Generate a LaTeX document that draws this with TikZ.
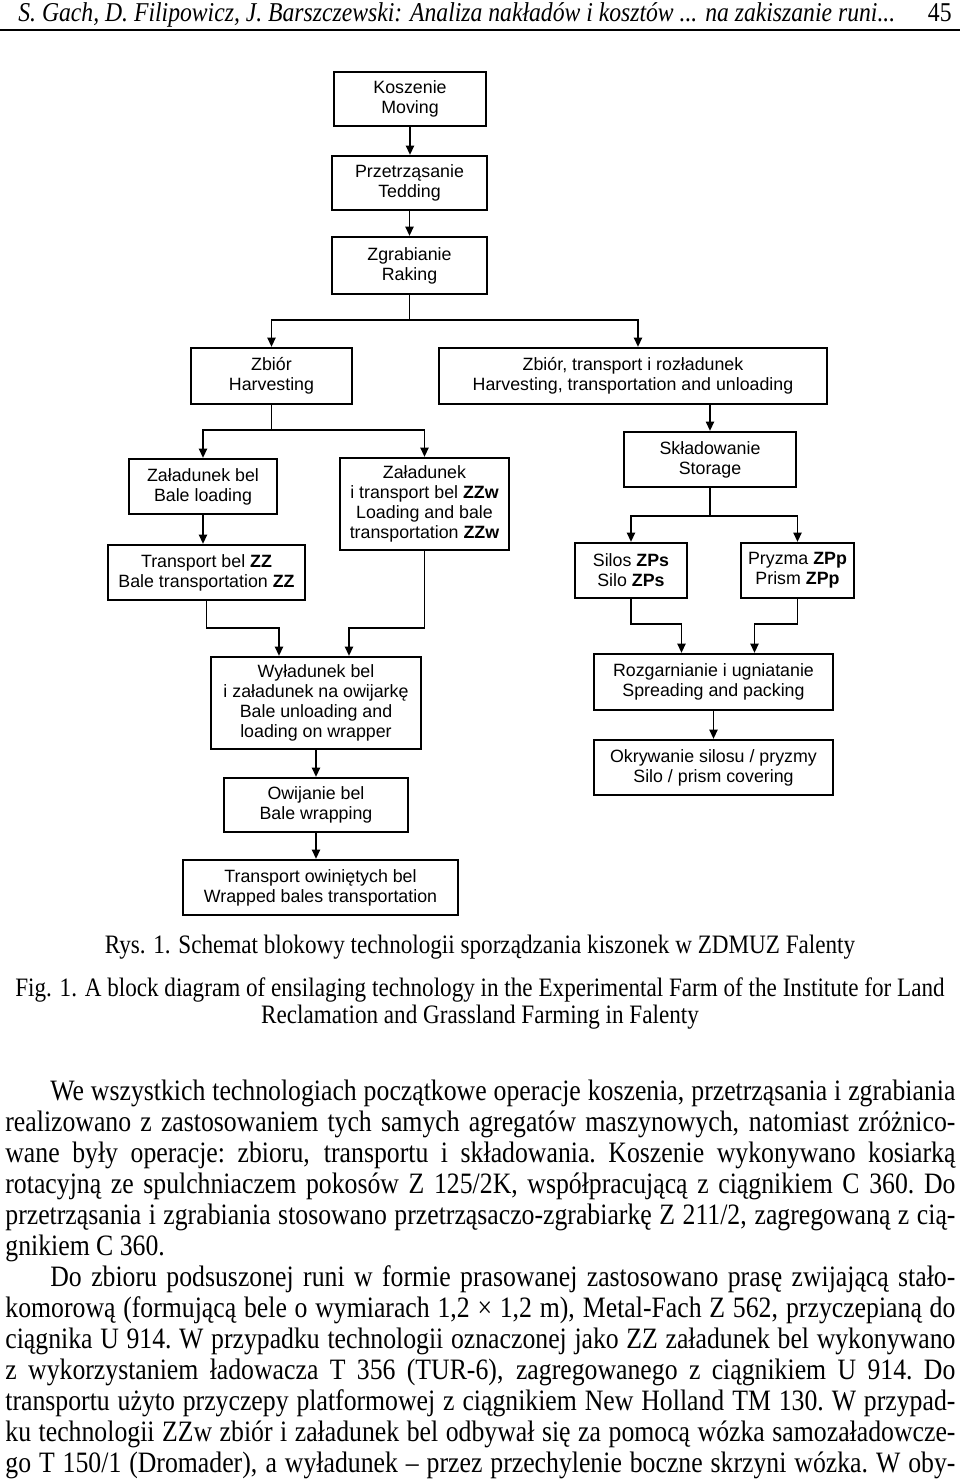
\documentclass[tikz,border=0pt]{standalone}
\usepackage{fontspec}
\setmainfont{Liberation Serif}[FakeStretch=0.87]
\newfontfamily\diagfont{Liberation Sans}
\usetikzlibrary{arrows.meta,calc}
\newcommand\jl[1]{\hbox to 475pt{\spaceskip=3.2pt plus 1fil minus 1fil\xspaceskip=\spaceskip #1}}
\begin{document}
\begin{tikzpicture}[x=0.5pt,y=-0.5pt,
  box/.style={draw, line width=1.1pt, inner sep=0pt, align=center,
    font=\diagfont\fontsize{8.9}{10}\selectfont},
  sz/.style 2 args={minimum width=#1*0.5pt, minimum height=#2*0.5pt},
  arr/.style={-{Triangle[length=4.6pt,width=4pt]}, line width=0.9pt},
  ln/.style={line width=0.9pt}]
\useasboundingbox (0,0) rectangle (960,1480);
% header
\node[anchor=base west, inner sep=0pt, font=\fontsize{13.6}{16}\selectfont\itshape] (hdr) at (18,21)
  {S. Gach, D. Filipowicz, J. Barszczewski: Analiza nakładów i kosztów ... na zakiszanie runi...};
\node[anchor=base east, inner sep=0pt, font=\fontsize{13.6}{16}\selectfont] (pg) at (952,21) {45};
\coordinate (rl) at (0,30);
\coordinate (rr) at (960,30);
\draw[line width=0.8pt] (rl) -- (rr);
% boxes
\node[box, sz={152}{54}] (kos) at (410,99) {Koszenie\\Moving};
\node[box, sz={155}{54}] (prz) at (409.5,183) {Przetrząsanie\\Tedding};
\node[box, sz={155}{57}] (zgr) at (409.5,265.5) {Zgrabianie\\Raking};
\node[box, sz={161}{56}] (zb) at (271.5,376) {Zbiór\\Harvesting};
\node[box, sz={388}{56}] (zbt) at (633,376) {Zbiór, transport i rozładunek\\Harvesting, transportation and unloading};
\node[box, sz={148}{55}] (zal) at (203,486.5) {Załadunek bel\\Bale loading};
\node[box, sz={197}{55}] (trzz) at (206.5,572.5) {Transport bel \textbf{ZZ}\\Bale transportation \textbf{ZZ}};
\node[box, sz={169}{92}] (zzw) at (424.5,504) {Załadunek\\i transport bel \textbf{ZZw}\\Loading and bale\\transportation \textbf{ZZw}};
\node[box, sz={172}{55}] (skl) at (710,459.5) {Składowanie\\Storage};
\node[box, sz={112}{55}] (sil) at (631,570.5) {Silos \textbf{ZPs}\\Silo \textbf{ZPs}};
\node[box, sz={113}{55}] (pry) at (797.5,570.5) {Pryzma \textbf{ZPp}\\Prism \textbf{ZPp}};
\node[box, sz={210}{92}] (wyl) at (316,703) {Wyładunek bel\\i załadunek na owijarkę\\Bale unloading and\\loading on wrapper};
\node[box, sz={184}{54}] (owi) at (316,805) {Owijanie bel\\Bale wrapping};
\node[box, sz={275}{55}] (tro) at (320.5,887.5) {Transport owiniętych bel\\Wrapped bales transportation};
\node[box, sz={239}{56}] (roz) at (713.5,682) {Rozgarnianie i ugniatanie\\Spreading and packing};
\node[box, sz={239}{55}] (okr) at (713.5,767.5) {Okrywanie silosu / pryzmy\\Silo / prism covering};
% connectors
\draw[arr] (kos.south) -- (kos.south |- prz.north);
\draw[arr] (prz.south) -- (prz.south |- zgr.north);
\coordinate (j1) at (409.5,320);
\coordinate (zbtin) at ($(zbt.north)+(5,0)$);
\draw[ln] (zgr.south) -- (j1);
\draw[arr] (j1) -| (zb.north);
\draw[arr] (j1) -| (zbtin);
\coordinate (j2) at (271.5,430);
\draw[ln] (zb.south) -- (j2);
\draw[arr] (j2) -| (zal.north);
\draw[arr] (j2) -| (zzw.north);
\draw[arr] (zal.south) -- (zal.south |- trzz.north);
\draw[arr] (skl.north |- zbt.south) -- (skl.north);
\coordinate (j3) at (710,516);
\draw[ln] (skl.south) -- (j3);
\draw[arr] (j3) -| (sil.north);
\draw[arr] (j3) -| (pry.north);
\coordinate (wa) at ($(wyl.north)+(-37,0)$);
\coordinate (wb) at ($(wyl.north)+(33,0)$);
\coordinate (ha) at ($(wa)+(0,-28)$);
\coordinate (hb) at ($(wb)+(0,-28)$);
\draw[arr] (trzz.south) |- (ha) -- (wa);
\draw[arr] (zzw.south) |- (hb) -- (wb);
\coordinate (ra) at ($(roz.north)+(-32,0)$);
\coordinate (rb) at ($(roz.north)+(41,0)$);
\coordinate (hra) at ($(ra)+(0,-29)$);
\coordinate (hrb) at ($(rb)+(0,-29)$);
\draw[arr] (sil.south) |- (hra) -- (ra);
\draw[arr] (pry.south) |- (hrb) -- (rb);
\draw[arr] (roz.south) -- (roz.south |- okr.north);
\draw[arr] (wyl.south) -- (wyl.south |- owi.north);
\draw[arr] (owi.south) -- (owi.south |- tro.north);
% captions
\node[anchor=base, inner sep=0pt, font=\fontsize{13.3}{15.5}\selectfont] (cap1) at (480,953)
  {Rys. 1. Schemat blokowy technologii sporządzania kiszonek w ZDMUZ Falenty};
\node[anchor=base, inner sep=0pt, font=\fontsize{13.3}{15.5}\selectfont] (cap2) at (480,996)
  {Fig. 1. A block diagram of ensilaging technology in the Experimental Farm of the Institute for Land};
\node[anchor=base, inner sep=0pt, font=\fontsize{13.3}{15.5}\selectfont] (cap3) at (480,1023)
  {Reclamation and Grassland Farming in Falenty};
% body text
\node[anchor=base west, inner sep=0pt, font=\fontsize{14.8}{15.5}\selectfont] (body) at (5,1100) {\vtop{\hsize=475pt\baselineskip=15.5pt
\jl{\kern22.5pt We wszystkich technologiach początkowe operacje koszenia, przetrząsania i zgrabiania}
\jl{realizowano z zastosowaniem tych samych agregatów maszynowych, natomiast zróżnico-}
\jl{wane były operacje: zbioru, transportu i składowania. Koszenie wykonywano kosiarką}
\jl{rotacyjną ze spulchniaczem pokosów Z 125/2K, współpracującą z ciągnikiem C 360. Do}
\jl{przetrząsania i zgrabiania stosowano przetrząsaczo-zgrabiarkę Z 211/2, zagregowaną z cią-}
\hbox{gnikiem C 360.}
\jl{\kern22.5pt Do zbioru podsuszonej runi w formie prasowanej zastosowano prasę zwijającą stało-}
\jl{komorową (formującą bele o wymiarach 1,2 × 1,2 m), Metal-Fach Z 562, przyczepianą do}
\jl{ciągnika U 914. W przypadku technologii oznaczonej jako ZZ załadunek bel wykonywano}
\jl{z wykorzystaniem ładowacza T 356 (TUR-6), zagregowanego z ciągnikiem U 914. Do}
\jl{transportu użyto przyczepy platformowej z ciągnikiem New Holland TM 130. W przypad-}
\jl{ku technologii ZZw zbiór i załadunek bel odbywał się za pomocą wózka samozaładowcze-}
\jl{go T 150/1 (Dromader), a wyładunek – przez przechylenie boczne skrzyni wózka. W oby-}
}};
\end{tikzpicture}
\end{document}
